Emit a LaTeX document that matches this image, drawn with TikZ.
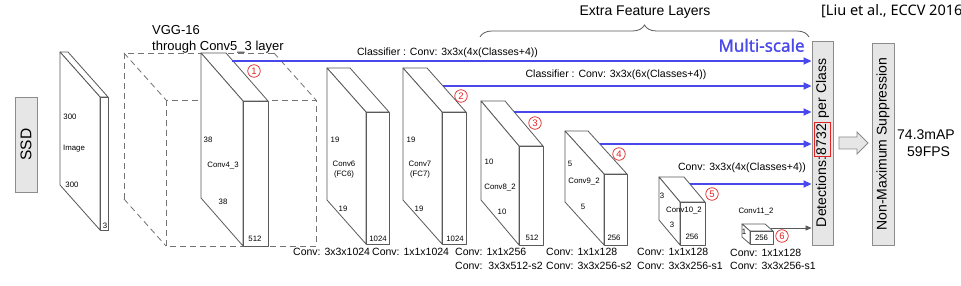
\documentclass[tikz,border=0pt]{standalone}
\usepackage{fontspec}
\setmainfont{Liberation Sans}
\newfontfamily\notosans{Noto Sans}
\newfontfamily\notosansbf[FakeBold=1.0]{Noto Sans}
\usetikzlibrary{arrows.meta,decorations.pathreplacing}
\definecolor{mblue}{RGB}{72,72,235}
\definecolor{edge}{RGB}{90,90,90}
\definecolor{boxfill}{RGB}{230,230,230}
\definecolor{boxedge}{RGB}{140,140,140}
\definecolor{cred}{RGB}{225,35,35}
% slab: #1 back-left x, #2 top y, #3 depth dx, #4 depth dy, #5 front width, #6 bottom y
\newcommand\slabbox[6]{%
  \filldraw[slab] (#1,#2) -- ({#1+#5},#2) -- ({#1+#3+#5},{#2+#4}) -- ({#1+#3},{#2+#4}) -- cycle;
  \filldraw[slab] (#1,#2) -- ({#1+#3},{#2+#4}) -- ({#1+#3},#6) -- (#1,{#6-#4}) -- cycle;
  \filldraw[slab] ({#1+#3},{#2+#4}) rectangle ({#1+#3+#5},#6);
}
\begin{document}
\begin{tikzpicture}[x=1pt,y=-1pt,
  slab/.style={draw=edge, fill=white, line width=0.8pt, line join=round},
  vgg/.style={draw=edge!85, dash pattern=on 6pt off 4pt, line width=0.8pt},
  small/.style={font=\fontsize{7.8}{8}\selectfont, inner sep=0pt},
  caplbl/.style={font=\fontsize{10.5}{12}\selectfont, inner sep=0pt},
  biglbl/.style={font=\fontsize{14}{16}\selectfont, inner sep=0pt},
  sidebox/.style={draw=boxedge, fill=boxfill, line width=0.9pt},
  mscale/.style={draw=mblue, line width=1.8pt, -{Triangle[length=8pt,width=7pt]}},
  thinarrow/.style={draw=edge, line width=0.8pt, -{Triangle[length=6pt,width=5pt]}},
  circ/.style={circle, draw=cred, text=cred, line width=0.7pt, minimum size=12.5pt, inner sep=0pt, font=\fontsize{9.5}{9.5}\selectfont}]
\fill[white] (0,0) rectangle (961,286);
\useasboundingbox (0,0) rectangle (961,286);

% SSD box
\node[sidebox, minimum width=22pt, minimum height=95pt, inner sep=0pt] (ssd) at (26,144.5) {};
\node[font=\fontsize{15.5}{16}\selectfont, rotate=90, inner sep=0pt] (ssdt) at (ssd.center) {SSD};

% Input image slab
\slabbox{60}{52}{40}{45}{8}{230}
\node[small] (i1) at (70,117) {300};
\node[small] (i2) at (74,149) {Image};
\node[small] (i3) at (72,185) {300};
\node[small] (i4) at (105,226) {3};

% VGG dashed box
\draw[vgg] (166,100) rectangle (316,246);
\draw[vgg] (124,199) -- (124,53) -- (274,53);
\draw[vgg] (124,53) -- (166,100);
\draw[vgg] (274,53) -- (316,100);
\draw[vgg] (124,199) -- (166,246);
\node[font=\fontsize{13}{14}\selectfont, inner sep=0pt, anchor=base west] (vgg1) at (152,35) {VGG-16};
\node[font=\fontsize{13}{14}\selectfont, inner sep=0pt, anchor=base west] (vgg2) at (152,50.7) {through Conv5\_3 layer};

% Conv4_3
\slabbox{201}{53}{42}{48}{25}{246}
\node[small] (a1) at (208,140) {38};
\node[small] (a2) at (223,166) {Conv4\_3};
\node[small] (a3) at (223,202) {38};
\node[small] (a4) at (255,239) {512};

% Conv6
\slabbox{327}{68}{39}{44}{23}{244}
\node[small] (b1) at (335,140) {19};
\node[small] (b2) at (344,164) {Conv6};
\node[small] (b3) at (344,174) {(FC6)};
\node[small] (b4) at (343,209) {19};
\node[small] (b5) at (378,239) {1024};

% Conv7
\slabbox{403}{68}{39}{44}{24}{244}
\node[small] (d1) at (411,140) {19};
\node[small] (d2) at (420,164) {Conv7};
\node[small] (d3) at (420,174) {(FC7)};
\node[small] (d4) at (419,209) {19};
\node[small] (d5) at (455,239) {1024};

% Conv8_2
\slabbox{481}{101}{38}{45}{24}{245}
\node[small] (e1) at (489,162) {10};
\node[small] (e2) at (500,188) {Conv8\_2};
\node[small] (e3) at (502,212) {10};
\node[small] (e4) at (532,238) {512};

% Conv9_2
\slabbox{565}{131}{39}{43}{23}{245}
\node[small] (f1) at (570,164) {5};
\node[small] (f2) at (584,182) {Conv9\_2};
\node[small] (f3) at (583,207) {5};
\node[small] (f4) at (614,238) {256};

% Conv10_2
\slabbox{659}{177}{21}{25}{25}{245}
\node[small] (g1) at (662,196) {3};
\node[small] (g2) at (684,211) {Conv10\_2};
\node[small] (g3) at (672,225) {3};
\node[small] (g4) at (692,237) {256};

% Conv11_2
\slabbox{742}{224}{8}{7}{23}{244}
\node[small] (h1) at (744,232) {1};
\node[small] (h2) at (761.5,237.5) {256};
\node[small] (h3) at (756,212) {Conv11\_2};

% bottom captions
\node[caplbl, anchor=base west] (l1) at (293,255) {Conv: 3x3x1024};
\node[caplbl, anchor=base west] (l2) at (372,255) {Conv: 1x1x1024};
\node[caplbl, anchor=base west] (l3) at (455,255) {Conv: 1x1x256};
\node[caplbl, anchor=base west] (l4) at (455,269) {Conv:\ \ 3x3x512-s2};
\node[caplbl, anchor=base west] (l5) at (546,255) {Conv: 1x1x128};
\node[caplbl, anchor=base west] (l6) at (546,269) {Conv: 3x3x256-s2};
\node[caplbl, anchor=base west] (l7) at (637,255) {Conv: 1x1x128};
\node[caplbl, anchor=base west] (l8) at (637,269) {Conv: 3x3x256-s1};
\node[caplbl, anchor=base west] (l9) at (730,256) {Conv: 1x1x128};
\node[caplbl, anchor=base west] (l10) at (730,269.5) {Conv: 3x3x256-s1};

% Extra feature layers brace
\draw[edge, line width=0.8pt, decorate, decoration={brace, amplitude=12pt}] (480,37) -- (809,37);
\node[biglbl, anchor=base] (efl) at (645,16) {Extra Feature Layers};
\node[anchor=base west, font=\notosans\fontsize{14.5}{15}\selectfont, inner sep=0pt] (ref) at (821,15.5) {[Liu et al., ECCV 2016]};
\node[anchor=base, font=\notosansbf\fontsize{17}{18}\selectfont, text=mblue, inner sep=0pt] (ms) at (761.5,51.7) {Multi-scale};

% Detection box
\node[sidebox, minimum width=21pt, minimum height=204pt, inner sep=0pt] (det) at (822.5,143) {};
\node[biglbl, rotate=90] (dett) at (det.center) {Detections:{\setlength{\fboxsep}{1pt}\setlength{\fboxrule}{1pt}\fcolorbox{cred}{boxfill}{\rule[-3pt]{0pt}{13pt}8732}} per Class};

% NMS box
\node[sidebox, minimum width=22pt, minimum height=202pt, inner sep=0pt] (nms) at (883,144) {};
\node[biglbl, rotate=90] (nmst) at (nms.center) {Non-Maximum Suppression};
\draw[sidebox, line join=miter] (839,137) -- (857,137) -- (857,132) -- (868,143) -- (857,154) -- (857,149) -- (839,149) -- cycle;
\node[biglbl, anchor=base west] (map) at (897,139.3) {74.3mAP};
\node[biglbl, anchor=base west] (fps) at (907,156.7) {59FPS};

% classifier labels
\node[caplbl, anchor=base] (k1) at (447.5,55.5) {Classifier : Conv: 3x3x(4x(Classes+4))};
\node[caplbl, anchor=base] (k2) at (616,77.7) {Classifier : Conv: 3x3x(6x(Classes+4))};
\node[caplbl, anchor=base] (k3) at (742,170) {Conv: 3x3x(4x(Classes+4))};

% multi-scale arrows
\coordinate (s1) at (232,61);
\coordinate (s2) at (443,86);
\coordinate (s3) at (514,112);
\coordinate (s4) at (600,144);
\coordinate (s5) at (690,184);
\coordinate (s6) at (771,228);
\draw[mscale] (s1) -- (s1 -| det.west);
\draw[mscale] (s2) -- (s2 -| det.west);
\draw[mscale] (s3) -- (s3 -| det.west);
\draw[mscale] (s4) -- (s4 -| det.west);
\draw[mscale] (s5) -- (s5 -| det.west);
\draw[thinarrow] (s6) -- (s6 -| det.west);

% circled indices
\node[circ] (c1) at (254,71) {1};
\node[circ] (c2) at (461,96) {2};
\node[circ] (c3) at (535,123) {3};
\node[circ] (c4) at (619,154) {4};
\node[circ] (c5) at (712,194) {5};
\node[circ] (c6) at (782,236) {6};
\end{tikzpicture}
\end{document}
